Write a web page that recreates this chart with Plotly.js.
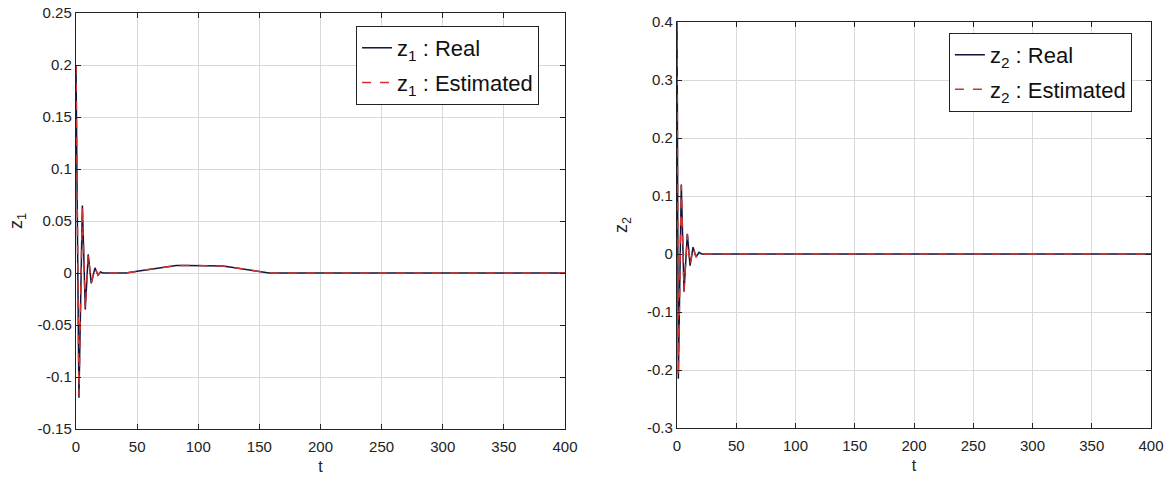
<!DOCTYPE html>
<html>
<head>
<meta charset="utf-8">
<script src="https://cdn.plot.ly/plotly-3.0.1.min.js"></script>
<style>html,body{margin:0;padding:0;background:#fff;}#chart{width:1169px;height:479px;}</style>
</head>
<body>
<div id="chart"></div>
<script>
// ---- data ----
const t1 = [0, 2.4, 5.2, 7.6, 10, 12.5, 15.5, 18, 20, 22, 25, 30, 35, 41, 50, 60, 70, 78, 82, 90, 100, 110, 116, 120, 130, 140, 150, 158, 170, 200, 250, 300, 350, 400];
const z1Real = [0.2, -0.12, 0.065, -0.035, 0.018, -0.01, 0.005, -0.002, 0.001, 0, 0, -0.0002, -0.0002, 0, 0.0017, 0.0035, 0.0055, 0.0068, 0.0072, 0.0073, 0.0073, 0.0073, 0.0071, 0.0067, 0.005, 0.003, 0.0012, 0, 0, 0, 0, 0, 0, 0];
const z1Estimated = [0.2, -0.118, 0.064, -0.034, 0.017, -0.009, 0.005, -0.002, 0.001, 0, 0, -0.0002, -0.0002, 0, 0.0017, 0.0035, 0.0055, 0.0068, 0.0072, 0.0073, 0.0073, 0.0073, 0.0071, 0.0067, 0.005, 0.003, 0.0012, 0, 0, 0, 0, 0, 0, 0];

const t2 = [0, 1.1, 3.6, 5.9, 8.7, 11, 13.5, 16, 18.6, 21, 25, 50, 100, 200, 300, 400];
const z2Real = [0.4, -0.215, 0.12, -0.065, 0.035, -0.02, 0.012, -0.005, 0.003, 0, 0, 0, 0, 0, 0, 0];
const z2Estimated = [0.4, -0.21, 0.118, -0.063, 0.034, -0.019, 0.011, -0.005, 0.003, 0, 0, 0, 0, 0, 0, 0];

const xTicks = [0, 50, 100, 150, 200, 250, 300, 350, 400];
const y1Ticks = [-0.15, -0.1, -0.05, 0, 0.05, 0.1, 0.15, 0.2, 0.25];
const y1Labels = ['-0.15', '-0.1', '-0.05', '0', '0.05', '0.1', '0.15', '0.2', '0.25'];
const y2Ticks = [-0.3, -0.2, -0.1, 0, 0.1, 0.2, 0.3, 0.4];
const y2Labels = ['-0.3', '-0.2', '-0.1', '0', '0.1', '0.2', '0.3', '0.4'];

const realColor = '#14143c';
const estColor = '#d0342c';
const FONT = 'Liberation Sans, Arial, sans-serif';

const traces = [
  {x: t1, y: z1Real, xaxis: 'x', yaxis: 'y', mode: 'lines', name: 'z<sub>1</sub> : Real',
   line: {color: realColor, width: 1.5}, legend: 'legend', legendgroup: 'a'},
  {x: t1, y: z1Estimated, xaxis: 'x', yaxis: 'y', mode: 'lines', name: 'z<sub>1</sub> : Estimated',
   line: {color: estColor, width: 1.5, dash: 'dash'}, legend: 'legend', legendgroup: 'b'},
  {x: t2, y: z2Real, xaxis: 'x2', yaxis: 'y2', mode: 'lines', name: 'z<sub>2</sub> : Real',
   line: {color: realColor, width: 1.5}, legend: 'legend2', legendgroup: 'c'},
  {x: t2, y: z2Estimated, xaxis: 'x2', yaxis: 'y2', mode: 'lines', name: 'z<sub>2</sub> : Estimated',
   line: {color: estColor, width: 1.5, dash: 'dash'}, legend: 'legend2', legendgroup: 'd'}
];

const axCommon = {
  showline: true, linecolor: '#222', linewidth: 1.2, mirror: 'ticks',
  ticks: 'inside', ticklen: 5, tickcolor: '#222',
  showgrid: true, gridcolor: '#d9d9d9', gridwidth: 1,
  zeroline: false, tickfont: {family: FONT, size: 15, color: '#222'}
};

const legendCommon = {
  bgcolor: '#fff', bordercolor: '#222', borderwidth: 1,
  font: {family: FONT, size: 22, color: '#111'},
  xanchor: 'left', yanchor: 'top', tracegroupgap: 3, traceorder: 'grouped'
};

const layout = {
  width: 1169, height: 479,
  margin: {l: 76, r: 18, t: 13, b: 50},
  paper_bgcolor: '#fff', plot_bgcolor: '#fff',
  showlegend: true,
  xaxis: Object.assign({}, axCommon, {domain: [0, 0.4549], range: [0, 400], tickvals: xTicks, ticklabelstandoff: 4,
    title: {text: 't', font: {family: FONT, size: 16, color: '#222'}, standoff: 6}}),
  yaxis: Object.assign({}, axCommon, {domain: [0, 1], range: [-0.15, 0.25], tickvals: y1Ticks, ticktext: y1Labels,
    title: {text: 'z<sub>1</sub>', font: {family: FONT, size: 18, color: '#222'}, standoff: 10}}),
  xaxis2: Object.assign({}, axCommon, {anchor: 'y2', domain: [0.5591, 1], range: [0, 400], tickvals: xTicks, ticklabelstandoff: 4,
    title: {text: 't', font: {family: FONT, size: 16, color: '#222'}, standoff: 6}}),
  yaxis2: Object.assign({}, axCommon, {anchor: 'x2', domain: [0.0024, 0.978], range: [-0.3, 0.4], tickvals: y2Ticks, ticktext: y2Labels,
    title: {text: 'z<sub>2</sub>', font: {family: FONT, size: 18, color: '#222'}, standoff: 14}}),
  legend: Object.assign({}, legendCommon, {x: 0.2605, y: 0.9688}),
  legend2: Object.assign({}, legendCommon, {x: 0.812, y: 0.952})
};

Plotly.newPlot('chart', traces, layout, {displayModeBar: false, staticPlot: true});
</script>
</body>
</html>
